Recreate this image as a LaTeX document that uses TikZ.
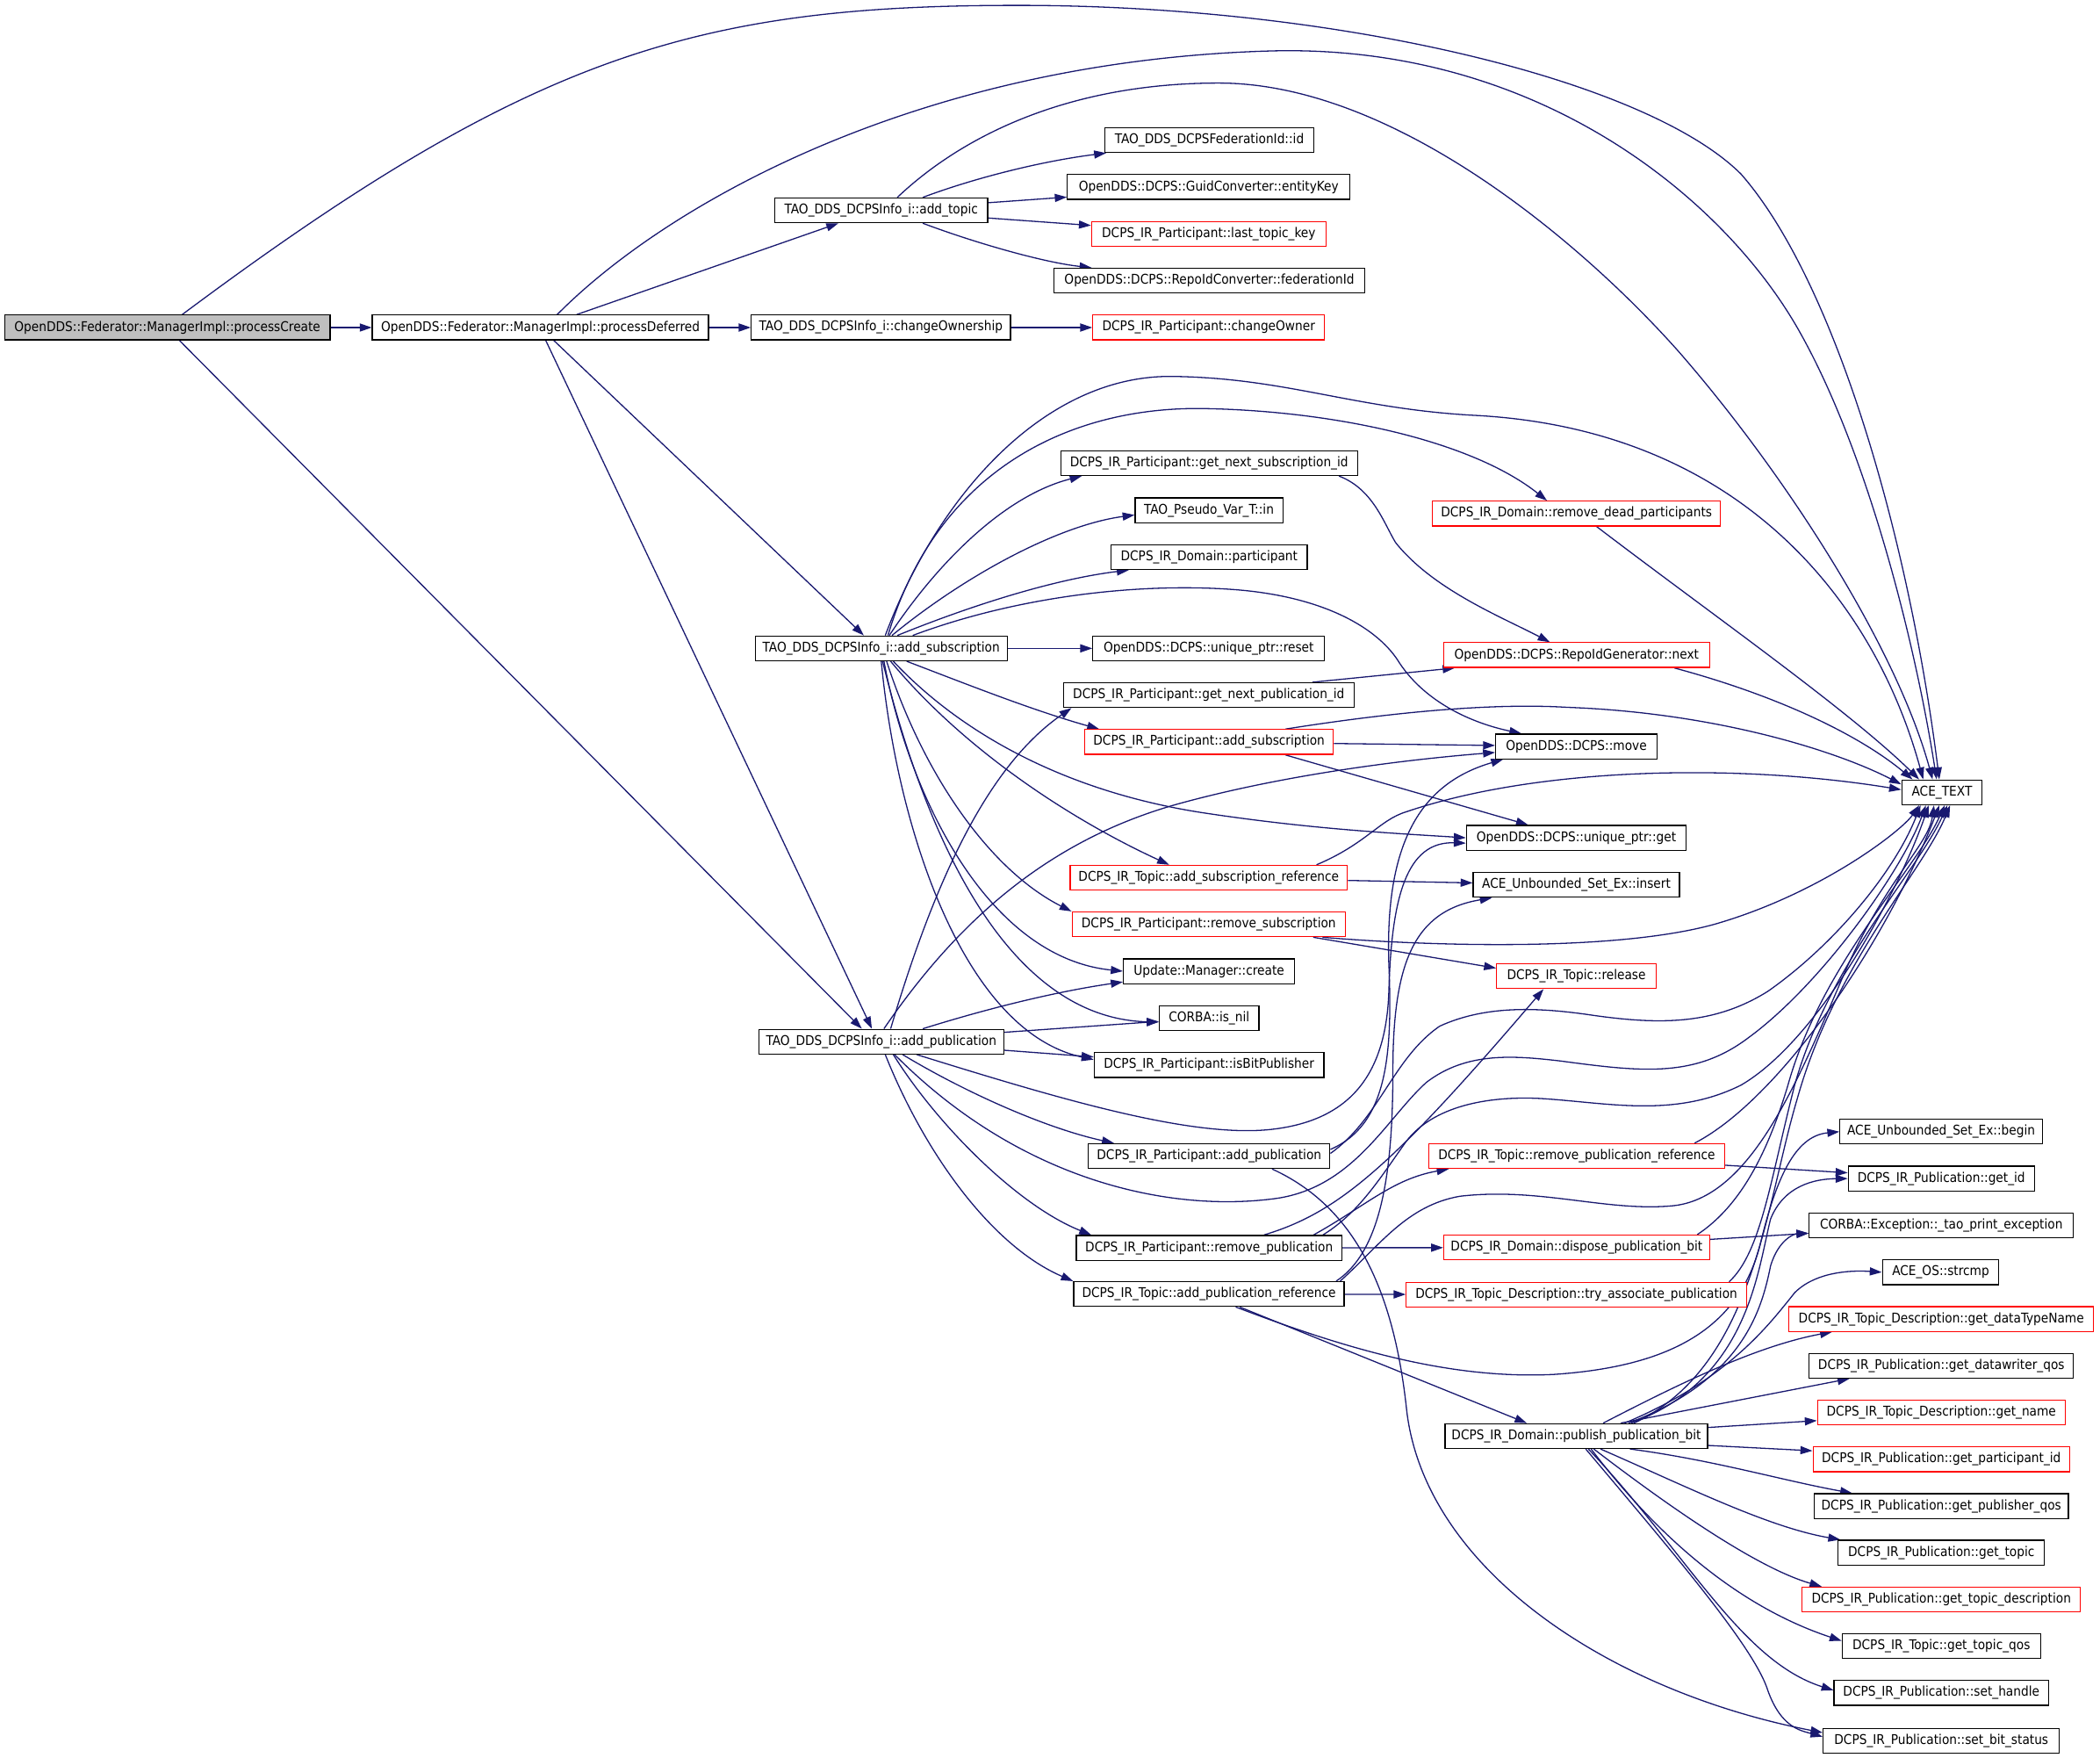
\documentclass[tikz,border=0pt]{standalone}
\usepackage{fontspec}
\usetikzlibrary{arrows.meta}
\IfFontExistsTF{DejaVu Sans Condensed}{\setmainfont{DejaVu Sans Condensed}\newcommand\nfsize{10}}{\setmainfont{DejaVu Sans}\newcommand\nfsize{8.95}}
\newcommand\nodefont{\fontsize{\nfsize}{\nfsize}\selectfont}
\definecolor{navyline}{RGB}{25,25,112}
\definecolor{rootgray}{RGB}{191,191,191}
\pgfdeclarelayer{bg}
\pgfsetlayers{bg,main}
\tikzset{
  nd/.style={draw=black, line width=0.8pt, minimum height=18.5pt, inner sep=0pt, font=\nodefont, fill=white, text=black},
  rd/.style={nd, draw=red},
  lnk/.style={draw=navyline, line width=0.85pt, -{Triangle[length=9pt,width=6pt]}},
}
\begin{document}
\begin{tikzpicture}[x=1pt,y=-1pt]
\useasboundingbox (0,0) rectangle (1568,1312.3);
% ---------- nodes ----------
\node[nd, fill=rootgray, minimum width=243pt] (pc) at (125,244.5) {OpenDDS::Federator::ManagerImpl::processCreate};
\node[nd, minimum width=251pt] (pd) at (403.5,244.5) {OpenDDS::Federator::ManagerImpl::processDeferred};
\node[nd, minimum width=193.5pt] (co) at (657.75,244.5) {TAO\_DDS\_DCPSInfo\_i::changeOwnership};
\node[nd, minimum width=159pt] (atp) at (658,157) {TAO\_DDS\_DCPSInfo\_i::add\_topic};
\node[nd, minimum width=188pt] (as) at (658,484) {TAO\_DDS\_DCPSInfo\_i::add\_subscription};
\node[nd, minimum width=183pt] (ap) at (658,777.6) {TAO\_DDS\_DCPSInfo\_i::add\_publication};
\node[nd, minimum width=156pt] (fid) at (903,104.6) {TAO\_DDS\_DCPSFederationId::id};
\node[nd, minimum width=211pt] (ek) at (902.5,139.6) {OpenDDS::DCPS::GuidConverter::entityKey};
\node[rd, minimum width=175pt] (ltk) at (902.5,174.6) {DCPS\_IR\_Participant::last\_topic\_key};
\node[nd, minimum width=232pt] (fedid) at (903,209.5) {OpenDDS::DCPS::RepoIdConverter::federationId};
\node[rd, minimum width=173pt] (cown) at (902.5,244.5) {DCPS\_IR\_Participant::changeOwner};
\node[nd, minimum width=221.5pt] (gnsi) at (902.75,345.7) {DCPS\_IR\_Participant::get\_next\_subscription\_id};
\node[nd, minimum width=110.2pt] (pin) at (902.7,380.9) {TAO\_Pseudo\_Var\_T::in};
\node[nd, minimum width=146.3pt] (dpart) at (902.85,415.9) {DCPS\_IR\_Domain::participant};
\node[nd, minimum width=173pt] (reset) at (902.5,484) {OpenDDS::DCPS::unique\_ptr::reset};
\node[nd, minimum width=217pt] (gnpi) at (902.5,518.9) {DCPS\_IR\_Participant::get\_next\_publication\_id};
\node[rd, minimum width=185.5pt] (pas) at (902.75,553.9) {DCPS\_IR\_Participant::add\_subscription};
\node[rd, minimum width=207pt] (tasr) at (902.5,655.2) {DCPS\_IR\_Topic::add\_subscription\_reference};
\node[rd, minimum width=204pt] (prs) at (902.5,690) {DCPS\_IR\_Participant::remove\_subscription};
\node[nd, minimum width=127.8pt] (umc) at (902.7,725) {Update::Manager::create};
\node[nd, minimum width=74.4pt] (isnil) at (902.8,760) {CORBA::is\_nil};
\node[nd, minimum width=171.5pt] (ibp) at (902.75,795) {DCPS\_IR\_Participant::isBitPublisher};
\node[nd, minimum width=180.4pt] (pap) at (902.8,863) {DCPS\_IR\_Participant::add\_publication};
\node[nd, minimum width=198.4pt] (prp) at (902.8,931.5) {DCPS\_IR\_Participant::remove\_publication};
\node[nd, minimum width=202pt] (tapr) at (902.65,966) {DCPS\_IR\_Topic::add\_publication\_reference};
\node[rd, minimum width=215pt] (rdp) at (1177.1,383.4) {DCPS\_IR\_Domain::remove\_dead\_participants};
\node[rd, minimum width=198.4pt] (rig) at (1177.2,489) {OpenDDS::DCPS::RepoIdGenerator::next};
\node[nd, minimum width=120.5pt] (move) at (1177,557.2) {OpenDDS::DCPS::move};
\node[nd, minimum width=164.2pt] (upg) at (1177,625.4) {OpenDDS::DCPS::unique\_ptr::get};
\node[nd, minimum width=154pt] (ins) at (1177,660.6) {ACE\_Unbounded\_Set\_Ex::insert};
\node[rd, minimum width=119pt] (rel) at (1177,728.7) {DCPS\_IR\_Topic::release};
\node[rd, minimum width=220.5pt] (rpr) at (1177.25,863) {DCPS\_IR\_Topic::remove\_publication\_reference};
\node[rd, minimum width=198.5pt] (dpb) at (1177.25,931.3) {DCPS\_IR\_Domain::dispose\_publication\_bit};
\node[rd, minimum width=254pt] (tap) at (1177,966.5) {DCPS\_IR\_Topic\_Description::try\_associate\_publication};
\node[nd, minimum width=196pt] (ppb) at (1177,1072) {DCPS\_IR\_Domain::publish\_publication\_bit};
\node[nd, minimum width=60pt] (ace) at (1450,591.5) {ACE\_TEXT};
\node[nd, minimum width=151.2pt] (beg) at (1449.4,844.8) {ACE\_Unbounded\_Set\_Ex::begin};
\node[nd, minimum width=139pt] (gid) at (1449.5,879.8) {DCPS\_IR\_Publication::get\_id};
\node[nd, minimum width=197.4pt] (cex) at (1449.5,914.6) {CORBA::Exception::\_tao\_print\_exception};
\node[nd, minimum width=87pt] (strcmp) at (1449,949.7) {ACE\_OS::strcmp};
\node[rd, minimum width=227.5pt] (gdtn) at (1449.5,984.6) {DCPS\_IR\_Topic\_Description::get\_dataTypeName};
\node[nd, minimum width=197.4pt] (gdwq) at (1449.5,1019.5) {DCPS\_IR\_Publication::get\_datawriter\_qos};
\node[rd, minimum width=185pt] (gname) at (1449.5,1054.5) {DCPS\_IR\_Topic\_Description::get\_name};
\node[rd, minimum width=191.6pt] (gpid) at (1449.5,1089.4) {DCPS\_IR\_Publication::get\_participant\_id};
\node[nd, minimum width=189.8pt] (gpq) at (1449.5,1124.3) {DCPS\_IR\_Publication::get\_publisher\_qos};
\node[nd, minimum width=154pt] (gtop) at (1449.5,1159) {DCPS\_IR\_Publication::get\_topic};
\node[rd, minimum width=207.8pt] (gtd) at (1449.5,1194) {DCPS\_IR\_Publication::get\_topic\_description};
\node[nd, minimum width=148pt] (gtq) at (1449.5,1228.9) {DCPS\_IR\_Topic::get\_topic\_qos};
\node[nd, minimum width=160.2pt] (sh) at (1449.5,1263.8) {DCPS\_IR\_Publication::set\_handle};
\node[nd, minimum width=176.4pt] (sbs) at (1449.5,1299.4) {DCPS\_IR\_Publication::set\_bit\_status};
% ---------- edges ----------
\begin{pgfonlayer}{bg}
\fill[white] (0,0) rectangle (1568,1312.3);
% processCreate
\draw[lnk] (pc) -- (pd);
\draw[lnk] ([xshift=11pt]pc.north) .. controls (396,41) and (520,4) .. (760,4) .. controls (1000,4) and (1230,60) .. (1300,130) .. controls (1370,210) and (1425,400) .. ([xshift=-2pt]ace.north);
\draw[lnk] ([xshift=9pt]pc.south) -- ([xshift=-14.5pt]ap.north);
% processDeferred
\draw[lnk] ([xshift=27pt]pd.north) -- ([xshift=-32pt]atp.south);
\draw[lnk] (pd) -- (co);
\draw[lnk] ([xshift=10pt]pd.south) -- ([xshift=-13pt]as.north);
\draw[lnk] ([xshift=4pt]pd.south) -- ([xshift=-7pt]ap.north);
\draw[lnk] ([xshift=12.5pt]pd.north) .. controls (500,150) and (690,45) .. (950,38) .. controls (1150,33) and (1290,150) .. (1345,250) .. controls (1395,340) and (1430,480) .. ([xshift=-4pt]ace.north);
% add_topic
\draw[lnk] ([xshift=12pt]atp.north) .. controls (720,100) and (800,62) .. (910,62) .. controls (1040,62) and (1180,180) .. (1253,262) .. controls (1330,350) and (1415,480) .. ([xshift=-7pt]ace.north);
\draw[lnk] ([xshift=31pt]atp.north) .. controls (730,132) and (780,120) .. (fid);
\draw[lnk] (atp) -- (ek);
\draw[lnk] (atp) -- (ltk);
\draw[lnk] ([xshift=31pt]atp.south) .. controls (730,182) and (780,196) .. (fedid);
% changeOwnership
\draw[lnk] (co) -- (cown);
% add_subscription
\draw[lnk] ([xshift=3pt]as.north) .. controls (700,370) and (780,280) .. (875,281) .. controls (960,282) and (1010,305) .. (1100,310) .. controls (1300,320) and (1400,450) .. ([xshift=-14pt]ace.north);
\draw[lnk] ([xshift=5pt]as.north) .. controls (700,350) and (800,303) .. (900,305) .. controls (1000,307) and (1100,330) .. ([xshift=-22pt]rdp.north);
\draw[lnk] ([xshift=6pt]as.north) .. controls (700,420) and (750,370) .. ([xshift=-95pt]gnsi.south);
\draw[lnk] ([xshift=8pt]as.north) .. controls (720,430) and (790,392) .. ([yshift=-3.5pt]pin.west);
\draw[lnk] ([xshift=12pt]as.north) .. controls (730,450) and (790,432) .. ([xshift=-60pt]dpart.south);
\draw[lnk] ([xshift=23.5pt]as.north) .. controls (760,445) and (850,435) .. (920,440) .. controls (990,445) and (1030,470) .. (1045,495) .. controls (1065,525) and (1100,540) .. ([xshift=-41pt]move.north);
\draw[lnk] (as) -- (reset);
\draw[lnk] ([xshift=19pt]as.south) .. controls (720,510) and (770,530) .. ([xshift=-82pt]pas.north);
\draw[lnk] ([xshift=9pt]as.south) .. controls (720,550) and (800,592) .. (900,607) .. controls (980,619) and (1040,622) .. (upg.west);
\draw[lnk] ([xshift=7pt]as.south) .. controls (720,560) and (800,612) .. ([xshift=-29.5pt]tasr.north);
\draw[lnk] ([xshift=4pt]as.south) .. controls (690,580) and (740,650) .. (prs.north west);
\draw[lnk] ([xshift=2pt]as.south) .. controls (680,600) and (740,715) .. (umc.west);
\draw[lnk] ([xshift=1pt]as.south) .. controls (690,620) and (750,760) .. ([yshift=-3pt]isnil.west);
\draw[lnk] (as.south) .. controls (670,620) and (720,770) .. ([yshift=4pt]ibp.west);
% add_publication
\draw[lnk] ([xshift=7pt]ap.north) .. controls (700,650) and (740,570) .. ([xshift=-102.5pt]gnpi.south);
\draw[lnk] ([xshift=2pt]ap.north) .. controls (720,680) and (790,625) .. (880,600) .. controls (960,578) and (1050,567) .. ([yshift=-4.5pt]move.west);
\draw[lnk] ([xshift=31pt]ap.north) .. controls (740,752) and (790,740) .. ([yshift=-8pt]umc.west);
\draw[lnk] ([yshift=7pt]ap.east) -- ([yshift=-2.5pt]isnil.west);
\draw[lnk] ([yshift=-6.4pt]ap.east) -- ([yshift=6pt]ibp.west);
\draw[lnk] ([xshift=16pt]ap.south) .. controls (720,815) and (780,842) .. ([xshift=-71pt]pap.north);
\draw[lnk] ([xshift=9pt]ap.south) .. controls (700,840) and (760,900) .. ([xshift=-88pt]prp.north);
\draw[lnk] ([xshift=3pt]ap.south) .. controls (690,860) and (740,930) .. (tapr.north west);
\draw[lnk] ([xshift=26.5pt]ap.south) .. controls (790,820) and (890,850) .. (950,843) .. controls (1010,836) and (1035,800) .. (1037,740) .. controls (1039,670) and (1050,628) .. ([yshift=-4pt]upg.west);
\draw[lnk] ([xshift=10pt]ap.south) .. controls (760,880) and (870,905) .. (950,895) .. controls (1010,888) and (1035,835) .. (1065,808) .. controls (1095,785) and (1130,788) .. (1165,792) .. controls (1225,800) and (1265,805) .. (1305,775) .. controls (1360,735) and (1420,650) .. ([xshift=-12pt]ace.south);
% DCPS_IR_Participant::add_publication
\draw[lnk] ([yshift=5pt]pap.east) .. controls (1035,840) and (1040,790) .. (1037,720) .. controls (1034,630) and (1060,585) .. ([xshift=6pt]move.south west);
\draw[lnk] ([yshift=2pt]pap.east) .. controls (1030,835) and (1040,790) .. (1075,766) .. controls (1110,750) and (1150,752) .. (1190,758) .. controls (1240,765) and (1280,765) .. (1320,740) .. controls (1370,705) and (1415,650) .. ([xshift=-16pt]ace.south);
\draw[lnk] ([xshift=47pt]pap.south) .. controls (1010,900) and (1040,960) .. (1050,1050) .. controls (1062,1170) and (1200,1262) .. ([yshift=6pt]sbs.west);
% remove_publication
\draw[lnk] (prp) -- (dpb);
\draw[lnk] ([xshift=41pt]prp.north) .. controls (1000,905) and (1040,870) .. ([xshift=-24.5pt]rel.south);
\draw[lnk] ([xshift=78pt]prp.north) .. controls (1020,900) and (1040,880) .. ([xshift=-95.5pt]rpr.south);
\draw[lnk] ([xshift=85pt]prp.north) .. controls (1015,905) and (1030,880) .. (1050,852) .. controls (1070,826) and (1110,818) .. (1150,820) .. controls (1200,823) and (1250,835) .. (1300,810) .. controls (1360,775) and (1420,660) .. ([xshift=-10pt]ace.south);
% add_publication_reference
\draw[lnk] (tapr) -- (tap);
\draw[lnk] ([xshift=23pt]tapr.south) -- ([xshift=-37pt]ppb.north);
\draw[lnk] ([xshift=20pt]tapr.south) .. controls (1000,1005) and (1080,1030) .. (1160,1026) .. controls (1250,1020) and (1298,990) .. (1314,930) .. controls (1326,880) and (1340,848) .. (beg.west);
\draw[lnk] ([xshift=98pt]tapr.north) .. controls (1030,930) and (1050,900) .. (1090,893) .. controls (1150,886) and (1200,905) .. (1250,900) .. controls (1310,893) and (1345,800) .. (1380,720) .. controls (1410,655) and (1440,630) .. ([xshift=-6pt]ace.south);
\draw[lnk] ([xshift=95pt]tapr.north) .. controls (1030,935) and (1040,880) .. (1040,800) .. controls (1040,720) and (1055,680) .. ([xshift=-63pt]ins.south);
% get_next ids
\draw[lnk] ([xshift=97pt]gnsi.south) .. controls (1025,365) and (1033,390) .. (1042,405) .. controls (1070,440) and (1120,460) .. ([xshift=-20pt]rig.north);
\draw[lnk] ([xshift=77.5pt]gnpi.north) -- ([xshift=-91pt]rig.south);
\draw[lnk] ([xshift=15pt]rdp.south) .. controls (1280,460) and (1380,530) .. ([xshift=-17pt]ace.north);
\draw[lnk] ([xshift=73pt]rig.south) .. controls (1330,520) and (1390,550) .. ([xshift=-22pt]ace.north);
% DCPS_IR_Participant::add_subscription
\draw[lnk] ([xshift=57pt]pas.north) .. controls (1050,530) and (1120,525) .. (1170,528) .. controls (1280,532) and (1370,560) .. ([yshift=6pt]ace.west);
\draw[lnk] (pas) -- (move);
\draw[lnk] ([xshift=57pt]pas.south) -- ([xshift=-36pt]upg.north);
% add_subscription_reference / remove_subscription
\draw[lnk] ([xshift=80.5pt]tasr.north) .. controls (1020,630) and (1030,612) .. (1050,606) .. controls (1150,572) and (1300,570) .. ([yshift=2pt]ace.west);
\draw[lnk] (tasr) -- (ins);
\draw[lnk] ([xshift=85pt]prs.south) .. controls (1050,705) and (1200,712) .. (1280,690) .. controls (1360,667) and (1420,620) .. ([xshift=-17pt]ace.south);
\draw[lnk] ([xshift=78pt]prs.south) -- ([yshift=6pt]rel.west);
% right middle column
\draw[lnk] (rpr) -- (gid);
\draw[lnk] ([xshift=88pt]rpr.north) .. controls (1330,820) and (1410,700) .. ([xshift=-2pt]ace.south);
\draw[lnk] (dpb) -- (cex);
\draw[lnk] ([xshift=90pt]dpb.north) .. controls (1300,900) and (1320,860) .. (1335,810) .. controls (1360,720) and (1430,650) .. ([xshift=2pt]ace.south);
\draw[lnk] ([xshift=114pt]tap.north) .. controls (1315,935) and (1322,880) .. (1340,810) .. controls (1365,720) and (1432,650) .. ([xshift=4pt]ace.south);
% publish_publication_bit
\draw[lnk] ([xshift=43pt]ppb.north) .. controls (1310,1020) and (1318,900) .. (1342,820) .. controls (1370,720) and (1436,650) .. ([xshift=6pt]ace.south);
\draw[lnk] ([xshift=41pt]ppb.north) .. controls (1305,1030) and (1312,950) .. (1322,910) .. controls (1332,885) and (1355,880) .. (gid.west);
\draw[lnk] ([xshift=39pt]ppb.north) .. controls (1300,1030) and (1315,980) .. (1322,945) .. controls (1328,925) and (1340,921) .. ([yshift=-6pt]cex.west);
\draw[lnk] ([xshift=36pt]ppb.north) .. controls (1290,1030) and (1320,990) .. (1340,965) .. controls (1355,950) and (1380,948) .. (strcmp.west);
\draw[lnk] ([xshift=20pt]ppb.north) .. controls (1250,1035) and (1310,1005) .. ([xshift=-81.5pt]gdtn.south);
\draw[lnk] ([xshift=33pt]ppb.north) -- ([xshift=-68.5pt]gdwq.south);
\draw[lnk] ([yshift=6.4pt]ppb.east) -- ([yshift=-6pt]gname.west);
\draw[lnk] ([yshift=-7pt]ppb.east) -- ([yshift=6.4pt]gpid.west);
\draw[lnk] ([xshift=40pt]ppb.south) .. controls (1280,1090) and (1330,1105) .. ([xshift=-66.5pt]gpq.north);
\draw[lnk] ([xshift=18pt]ppb.south) .. controls (1260,1110) and (1320,1140) .. ([xshift=2pt]gtop.north west);
\draw[lnk] ([xshift=13pt]ppb.south) .. controls (1240,1120) and (1310,1170) .. ([xshift=15pt]gtd.north west);
\draw[lnk] ([xshift=11pt]ppb.south) .. controls (1240,1150) and (1300,1200) .. ([yshift=4pt]gtq.west);
\draw[lnk] ([xshift=9pt]ppb.south) .. controls (1260,1160) and (1300,1240) .. ([yshift=2pt]sh.west);
\draw[lnk] ([xshift=7pt]ppb.south) .. controls (1250,1160) and (1310,1230) .. (1320,1262) .. controls (1330,1290) and (1345,1292) .. ([yshift=3pt]sbs.west);
\end{pgfonlayer}
\end{tikzpicture}
\end{document}
